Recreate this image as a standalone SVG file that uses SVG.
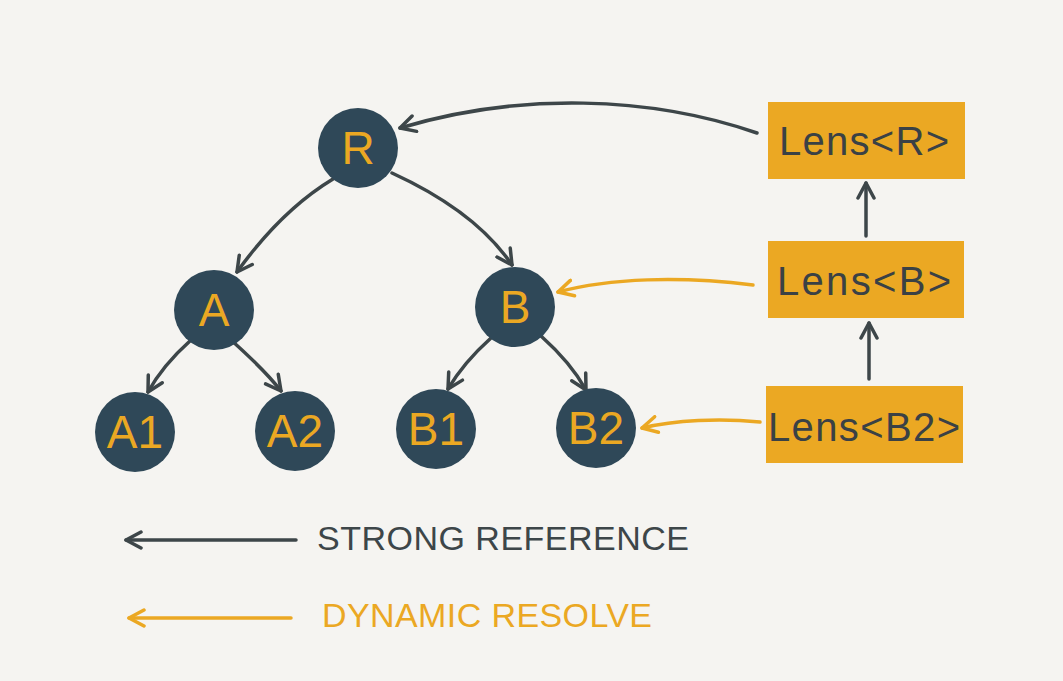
<svg xmlns="http://www.w3.org/2000/svg" width="1063" height="681" viewBox="0 0 1063 681">
<defs>
<style>
.node circle{fill:#2f4858;}
.node text{fill:#eba823;font-family:"Liberation Sans",sans-serif;font-size:46px;text-anchor:middle;font-weight:normal;}
.lens rect{fill:#eba823;}
.lens text{fill:#3a4145;font-family:"Liberation Sans",sans-serif;font-size:40px;}
.dark{fill:none;stroke:#3d4649;stroke-width:3.5;stroke-linecap:round;marker-end:url(#ad);}
.orng{fill:none;stroke:#eba823;stroke-width:3.5;stroke-linecap:round;marker-end:url(#ao);}
.leg{font-family:"Liberation Sans",sans-serif;font-size:34px;}
</style>
<marker id="ad" viewBox="-17 -10 19 20" markerWidth="19" markerHeight="20" refX="0" refY="0" orient="auto" markerUnits="userSpaceOnUse">
<path d="M-15,-8 L0,0 L-15,8" fill="none" stroke="#3d4649" stroke-width="3.5" stroke-linecap="round" stroke-linejoin="round"/>
</marker>
<marker id="ao" viewBox="-17 -10 19 20" markerWidth="19" markerHeight="20" refX="0" refY="0" orient="auto" markerUnits="userSpaceOnUse">
<path d="M-15,-8 L0,0 L-15,8" fill="none" stroke="#eba823" stroke-width="3.5" stroke-linecap="round" stroke-linejoin="round"/>
</marker>
</defs>
<rect width="1063" height="681" fill="#f5f4f1"/>
<g id="connectors">
<path class="dark" d="M757,133 C650,96 520,92 400,128"/>
<path class="dark" d="M333,179 C290,205 260,240 237,272"/>
<path class="dark" d="M392,173 C440,195 485,225 512,265"/>
<path class="dark" d="M191,340 C172,357 158,374 148,392"/>
<path class="dark" d="M231,340 C250,357 268,374 281,391"/>
<path class="dark" d="M491,338 C472,355 458,372 448,389"/>
<path class="dark" d="M541,336 C560,353 576,372 586,390"/>
<path class="dark" d="M866,236 L866,183"/>
<path class="dark" d="M869,379 L869,323"/>
<path class="orng" d="M753,285 C680,276 610,278 558,292"/>
<path class="orng" d="M760,422 C720,418 675,420 642,428"/>
</g>
<g id="node-R" class="node"><circle cx="358" cy="148" r="40"/><text x="358" y="164">R</text></g>
<g id="node-A" class="node"><circle cx="214" cy="310" r="40"/><text x="214" y="326">A</text></g>
<g id="node-B" class="node"><circle cx="515" cy="307" r="40"/><text x="515" y="323">B</text></g>
<g id="node-A1" class="node"><circle cx="135" cy="432" r="40"/><text x="135" y="448">A1</text></g>
<g id="node-A2" class="node"><circle cx="295" cy="431" r="40"/><text x="295" y="447">A2</text></g>
<g id="node-B1" class="node"><circle cx="436" cy="429" r="40"/><text x="436" y="445">B1</text></g>
<g id="node-B2" class="node"><circle cx="596" cy="428" r="40"/><text x="596" y="444">B2</text></g>
<g id="lens-R" class="lens"><rect x="768" y="102" width="197" height="77"/><text x="779" y="155" textLength="170" lengthAdjust="spacing">Lens&lt;R&gt;</text></g>
<g id="lens-B" class="lens"><rect x="768" y="241" width="196" height="77"/><text x="777" y="295" textLength="174" lengthAdjust="spacing">Lens&lt;B&gt;</text></g>
<g id="lens-B2" class="lens"><rect x="766" y="386" width="197" height="77"/><text x="768" y="441" textLength="192" lengthAdjust="spacing">Lens&lt;B2&gt;</text></g>
<g id="legend">
<path class="dark" d="M296,540 L126,540"/>
<text class="leg" x="317" y="550" fill="#3d4649" textLength="372" lengthAdjust="spacing">STRONG REFERENCE</text>
<path class="orng" d="M291,618 L129,618"/>
<text class="leg" x="322" y="627" fill="#eba823" textLength="330" lengthAdjust="spacing">DYNAMIC RESOLVE</text>
</g>
</svg>
